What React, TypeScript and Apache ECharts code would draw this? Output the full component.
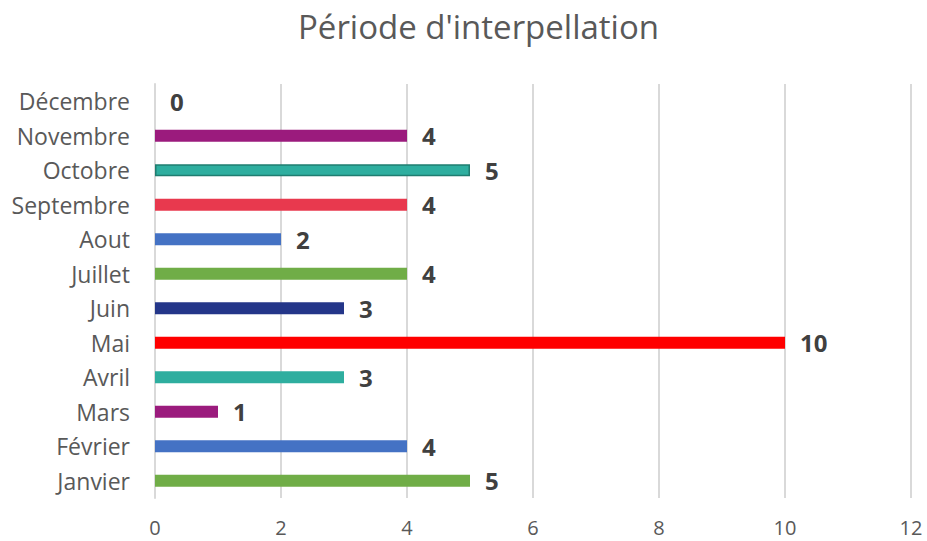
import React, { useEffect, useRef } from "react";
import * as echarts from "echarts";

const categories = ["Janvier", "Février", "Mars", "Avril", "Mai", "Juin", "Juillet", "Aout", "Septembre", "Octobre", "Novembre", "Décembre"];
const values = [5, 4, 1, 3, 10, 3, 4, 2, 4, 5, 4, 0];
const barColors = ["#70AD47", "#4472C4", "#9B1B7D", "#2EAE9F", "#FF0000", "#243689", "#70AD47", "#4472C4", "#E8394E", "#2EAE9F", "#9B1B7D", "#9B1B7D"];
const xTicks = { min: 0, max: 12, interval: 2 };

export default function App() {
  const ref = useRef<HTMLDivElement>(null);
  useEffect(() => {
    if (!ref.current) return;
    const chart = echarts.init(ref.current, undefined, { renderer: "svg" });
    const font = "'Open Sans', sans-serif";
    chart.setOption({
      animation: false,
      title: {
        text: "Période d'interpellation",
        left: 293,
        top: 5,
        textStyle: { fontFamily: font, fontSize: 33, fontWeight: "normal", color: "#595959" },
      },
      grid: { left: 155, right: 16, top: 84, bottom: 43, containLabel: false },
      xAxis: {
        type: "value",
        min: xTicks.min,
        max: xTicks.max,
        interval: xTicks.interval,
        axisLine: { show: false },
        axisTick: { show: false },
        splitLine: { show: true, lineStyle: { color: "#D9D9D9", width: 2 } },
        axisLabel: { fontFamily: font, fontSize: 20, color: "#595959", margin: 19 },
      },
      yAxis: {
        type: "category",
        data: categories,
        axisLine: { show: true, lineStyle: { color: "#D9D9D9", width: 2 } },
        axisTick: { show: false },
        axisLabel: { fontFamily: font, fontSize: 23, color: "#595959", margin: 25 },
      },
      series: [
        {
          type: "bar",
          barWidth: 12,
          data: values.map((v, i) => ({
            value: v,
            itemStyle: i === 9
              ? { color: barColors[i], borderColor: "#1F7D70", borderWidth: 1.5 }
              : { color: barColors[i] },
          })),
          label: {
            show: true,
            position: "right",
            distance: 15,
            fontFamily: font,
            fontSize: 24,
            fontWeight: "bold",
            color: "#404040",
          },
        },
      ],
    });
    return () => chart.dispose();
  }, []);
  return <div ref={ref} style={{ position: "absolute", left: 0, top: 0, width: 927, height: 541 }} />;
}
